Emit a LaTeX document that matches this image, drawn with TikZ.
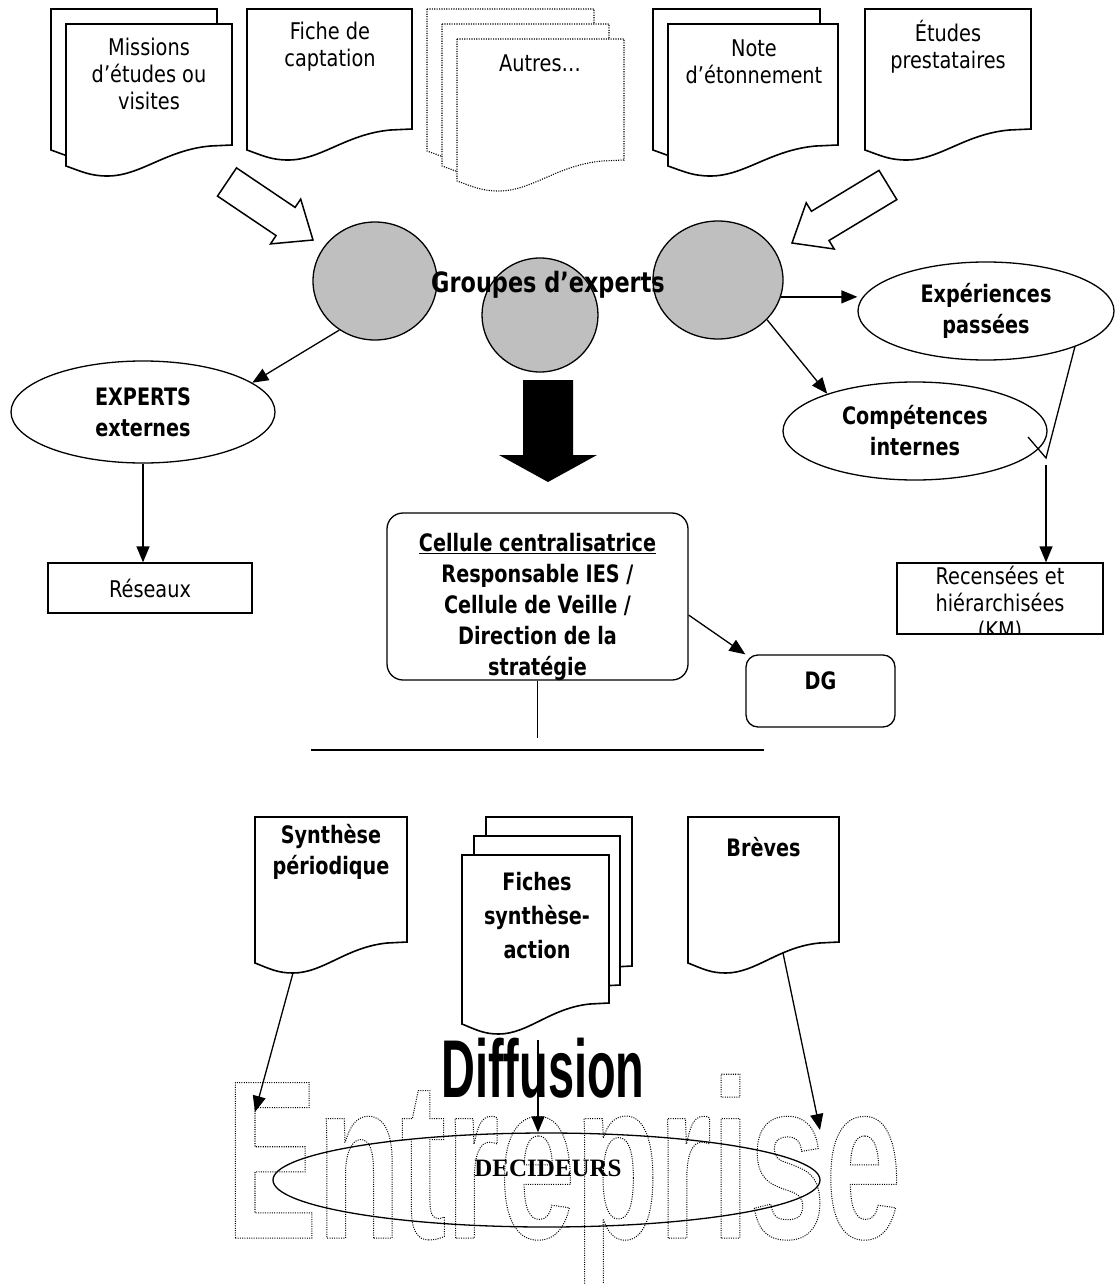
\documentclass[tikz,border=0pt]{standalone}
\usepackage{fontspec}
\setmainfont{DejaVu Sans}[FakeStretch=0.84]
\newfontfamily\boldsans{DejaVu Sans}[FakeStretch=0.8]
\newfontfamily\narrowbold{Liberation Sans}[FakeStretch=0.572]
\newfontfamily\narrowwide{Liberation Sans}[FakeStretch=0.604]
\newfontfamily\serifbold{Liberation Serif}
\usetikzlibrary{arrows.meta,shapes.geometric}

% stroked (hollow, dotted) lettering
\newcommand\hollowtext[1]{\special{pdf:literal direct 1 Tr 1 w [1 1.3] 0 d}#1\special{pdf:literal direct 0 Tr [] 0 d}}

% flowchart "document" outline: style, x, y, width, height of the right side
\newcommand\docshape[5]{%
  \begin{scope}[shift={(#2,#3)}]
    \draw[#1] (0,0) -- (#4,0) -- (#4,#5) -- ({0.87*#4},{#5+1})
      .. controls ({0.6*#4},{#5+5}) and ({0.45*#4},{#5+31}) .. ({0.25*#4},{#5+31})
      .. controls ({0.15*#4},{#5+31}) and ({0.1*#4},{#5+27}) .. (0,{#5+21}) -- cycle;
  \end{scope}}

\tikzset{
  docline/.style={line width=1.6pt, fill=white},
  docdots/.style={line width=1.1pt, fill=white, dash pattern=on 1.1pt off 1.3pt},
  reg/.style={font=\fontsize{23}{27}\selectfont, align=center, inner sep=0pt},
  bld/.style={font=\boldsans\bfseries\fontsize{24}{31}\selectfont, align=center, inner sep=0pt},
  grp/.style={ellipse, draw, line width=1.3pt, fill=black!25, inner sep=0pt},
  oval/.style={ellipse, draw, line width=1.3pt, inner sep=0pt},
  box/.style={draw, line width=1.3pt, inner sep=0pt},
  arr/.style={line width=1.3pt, -{Triangle[length=16pt,width=13pt]}},
  plain/.style={line width=1.3pt},
  hollowarrow/.style={line width=1.5pt, fill=white, line join=miter},
}

\begin{document}
\begin{tikzpicture}[x=1pt,y=-1pt]
\useasboundingbox (0,0) rectangle (1114,1284);

% ---------- sources ----------
\docshape{docline}{51}{9}{166}{120}
\docshape{docline}{66}{24}{166}{121}
\node[reg] (tMis) at (149,74) {Missions\\d’études ou\\visites};

\docshape{docline}{247}{9}{165}{120}
\node[reg] (tFic) at (330,47) {Fiche de\\captation};

\docshape{docdots}{427}{9}{167}{121}
\docshape{docdots}{442}{24}{167}{121}
\docshape{docdots}{457}{39}{167}{121}
\node[reg] (tAut) at (540,63) {Autres…};

\docshape{docline}{653}{9}{167}{120}
\docshape{docline}{668}{24}{170}{121}
\node[reg] (tNot) at (754,62) {Note\\d’étonnement};

\docshape{docline}{865}{9}{166}{120}
\node[reg] (tEtu) at (948,47) {Études\\prestataires};

% hollow block arrows into the expert groups
\draw[hollowarrow] (217.5,196.1) -- (276.1,235.6) -- (270.5,243.9) -- (313,240)
  -- (300.7,199.1) -- (295.1,207.4) -- (236.5,167.9) -- cycle;
\draw[hollowarrow] (879,170.4) -- (811.4,211.3) -- (806.2,202.8) -- (792,243)
  -- (834.2,249) -- (829,240.5) -- (896.8,199.6) -- cycle;

% ---------- expert groups ----------
\node[grp, minimum width=124pt, minimum height=118pt] (gL) at (375,281) {};
\node[grp, minimum width=116pt, minimum height=114pt] (gM) at (540,315) {};
\node[grp, minimum width=130pt, minimum height=118pt] (gR) at (718,280) {};
\node[font=\boldsans\bfseries\fontsize{28}{32}\selectfont, inner sep=0pt] (tGrp) at (548,285) {Groupes d’experts};

\node[oval, minimum width=264pt, minimum height=102pt, bld] (extn) at (143,412) {EXPERTS\\externes};
\node[oval, minimum width=256pt, minimum height=98pt, bld] (expp) at (986,311) {Expériences\\passées};
\node[oval, minimum width=264pt, minimum height=98pt, bld] (comp) at (915,431) {Compétences\\internes};

\node[box, minimum width=204pt, minimum height=50pt, reg] (res) at (150,588) {Réseaux};

\draw[arr] (gL.234) -- (extn.15);
\draw[arr] (extn.south) -- (extn.south |- res.north);
\draw[arr] (gR.-15) -- (gR.-15 -| expp.west);
\draw[arr] (gR.-39) -- (comp.157);

% expériences / compétences gathered towards the KM box
\coordinate (kink) at (1046,458);
\coordinate (kinkEnd) at (1028,437);
\draw[plain] (expp.-22) -- (kink) -- (kinkEnd);
\node[box, minimum width=206pt, minimum height=71pt] (rec) at (1000,598.5) {};
\begin{scope}
  \clip (rec.south west) rectangle (rec.north east);
  \node[reg, font=\fontsize{23}{27}\selectfont] (tRec) at (1000,604) {Recensées et\\hiérarchisées\\(KM)};
\end{scope}
\coordinate (kmTop) at (1046,465);
\draw[arr] (kmTop) -- (kmTop |- rec.north);

% ---------- centralisation ----------
\fill (523,380) -- (573,380) -- (573,455) -- (597,455) -- (548,482) -- (499,455) -- (523,455) -- cycle;

\node[box, rounded corners=16pt, minimum width=301pt, minimum height=167pt] (cell) at (537.5,596.5) {};
\node[bld, anchor=north] (tCell) at (537.5,533) {\underline{Cellule centralisatrice}\\Responsable IES /\\Cellule de Veille /\\Direction de la\\stratégie};

\node[box, rounded corners=12pt, minimum width=149pt, minimum height=72pt] (dg) at (820.5,691) {};
\node[bld] (tDG) at (820.5,681) {DG};
\draw[arr] (cell.-7) -- (dg.north west);

\coordinate (bar) at (537.5,738);
\draw[plain] (cell.south) -- (bar);
\coordinate (barL) at (311,750);
\coordinate (barR) at (764,750);
\draw[plain] (barL) -- (barR);

% ---------- outputs ----------
\docshape{docline}{255}{817}{152}{125}
\node[bld] (tSyn) at (331,852) {Synthèse\\périodique};

\docshape{docline}{486}{817}{146}{149}
\docshape{docline}{474}{836}{146}{149}
\docshape{docline}{462}{855}{147}{148}
\node[bld, font=\boldsans\bfseries\fontsize{24}{34}\selectfont] (tFich) at (537,916) {Fiches\\synthèse-\\action};

\docshape{docline}{688}{817}{151}{125}
\node[bld] (tBre) at (763.5,847) {Brèves};

% ---------- diffusion ----------
\node[anchor=base west, inner sep=0pt, font=\narrowwide\bfseries\fontsize{226}{226}\selectfont] (ent) at (226,1238) {\hollowtext{Entreprise}};
\node[anchor=base west, inner sep=0pt, font=\narrowbold\bfseries\fontsize{82}{82}\selectfont] (diff) at (441,1097) {Diffusion};

\node[oval, minimum width=547pt, minimum height=94pt] (dec) at (546.5,1180) {};
\node[inner sep=0pt, font=\serifbold\bfseries\fontsize{25}{28}\selectfont] (tDec) at (548,1168) {DECIDEURS};

\coordinate (synB) at (293,973);
\coordinate (synT) at (255,1112);
\draw[arr] (synB) -- (synT);
\coordinate (fichB) at (538,1040);
\draw[arr] (fichB) -- (fichB |- dec.north);
\coordinate (breB) at (783,953);
\coordinate (breT) at (820,1130);
\draw[arr] (breB) -- (breT);
\end{tikzpicture}
\end{document}
